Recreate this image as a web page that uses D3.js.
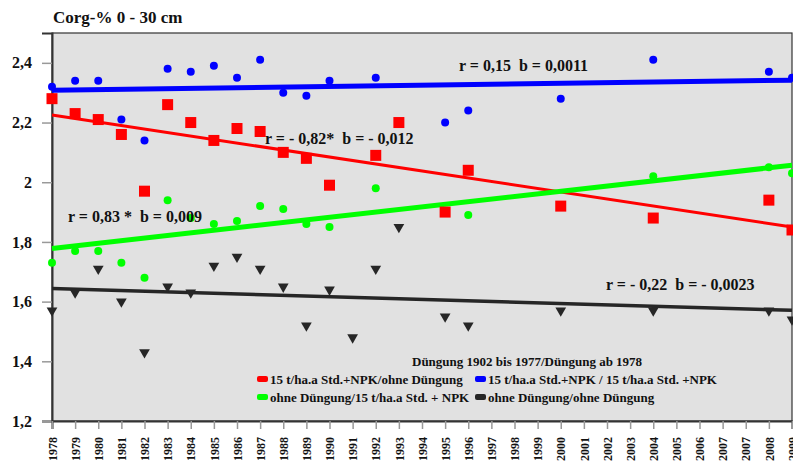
<html>
<head>
<meta charset="utf-8">
<script src="https://d3js.org/d3.v7.min.js"></script>
<style>
  body { margin: 0; background: #fff; }
  text { font-family: "Liberation Serif", "Times New Roman", serif; font-weight: bold; fill: #111; }
</style>
</head>
<body>
<svg id="chart" width="793" height="462"></svg>
<script>
// x labels (note: 2007 appears twice in the original)
let xLabels = ["1978","1979","1980","1981","1982","1983","1984","1985","1986","1987","1988","1989","1990",
  "1991","1992","1993","1994","1995","1996","1997","1998","1999","2000","2001","2002","2003","2004","2005",
  "2006","2007","2007","2008","2009"];
let yTicks = [1.2, 1.4, 1.6, 1.8, 2.0, 2.2, 2.4];

// 15 t/ha.a Std.+NPK / 15 t/ha.a Std. +NPK
let blueYears = [1978,1979,1980,1981,1982,1983,1984,1985,1986,1987,1988,1989,1990,1992,1995,1996,2000,2004,2008,2009];
let blueVals  = [2.32,2.34,2.34,2.21,2.14,2.38,2.37,2.39,2.35,2.41,2.30,2.29,2.34,2.35,2.20,2.24,2.28,2.41,2.37,2.35];
// 15 t/ha.a Std.+NPK/ohne Düngung
let redYears = [1978,1979,1980,1981,1982,1983,1984,1985,1986,1987,1988,1989,1990,1992,1993,1995,1996,2000,2004,2008,2009];
let redVals  = [2.28,2.23,2.21,2.16,1.97,2.26,2.20,2.14,2.18,2.17,2.10,2.08,1.99,2.09,2.20,1.90,2.04,1.92,1.88,1.94,1.84];
// ohne Düngung/15 t/ha.a Std. + NPK
let greenYears = [1978,1979,1980,1981,1982,1983,1984,1985,1986,1987,1988,1989,1990,1992,1996,2004,2008,2009];
let greenVals  = [1.73,1.77,1.77,1.73,1.68,1.94,1.88,1.86,1.87,1.92,1.91,1.86,1.85,1.98,1.89,2.02,2.05,2.03];
// ohne Düngung/ohne Düngung
let blackYears = [1978,1979,1980,1981,1982,1983,1984,1985,1986,1987,1988,1989,1990,1991,1992,1993,1995,1996,2000,2004,2008,2009];
let blackVals  = [1.57,1.63,1.71,1.60,1.43,1.65,1.63,1.72,1.75,1.71,1.65,1.52,1.64,1.48,1.71,1.85,1.55,1.52,1.57,1.57,1.57,1.54];

// regression lines: value at 1978 and at 2009
let trendYears = [1978, 2009];
let blueTrend  = [2.308, 2.342];
let redTrend   = [2.225, 1.850];
let greenTrend = [1.778, 2.057];
let blackTrend = [1.644, 1.571];

let svg = d3.select("#chart");
let mLeft = 52, mRight = 792, mTop = 33, mBottom = 421;

let x = d3.scalePoint().domain(d3.range(xLabels.length)).range([mLeft, mRight]);
let y = d3.scaleLinear().domain([1.2, 2.5]).range([mBottom, mTop]);
let xi = yr => xLabels.lastIndexOf(String(yr));
let fmt = v => d3.format(".1f")(v).replace(".", ",").replace(/,0$/, "");

// title
svg.append("text").attr("x", 53).attr("y", 23).style("font-size", "17px").text("Corg-% 0 - 30 cm");

// plot area
svg.append("rect").attr("x", mLeft).attr("y", mTop).attr("width", mRight - mLeft).attr("height", mBottom - mTop)
  .attr("fill", "#e1e1e1").attr("stroke", "#333").attr("stroke-width", 1.2);

// y axis
let yAxis = svg.append("g").attr("transform", `translate(${mLeft},0)`)
  .call(d3.axisLeft(y).tickValues(yTicks).tickFormat(fmt).tickSize(10).tickPadding(10));
yAxis.select(".domain").attr("stroke", "#333").attr("stroke-width", 2);
yAxis.selectAll(".tick line").attr("stroke", "#999").attr("stroke-width", 1.5);
yAxis.selectAll("text").style("font-size", "16px").attr("fill", "#111");

// x axis
let xAxis = svg.append("g").attr("transform", `translate(0,${mBottom})`)
  .call(d3.axisBottom(x).tickFormat(i => xLabels[i]).tickSize(8));
xAxis.select(".domain").attr("stroke", "#333").attr("stroke-width", 2);
xAxis.selectAll(".tick line").attr("stroke", "#999").attr("stroke-width", 1.5);
xAxis.selectAll("text").style("font-size", "12px").attr("fill", "#111")
  .attr("transform", "rotate(-90)").attr("text-anchor", "end")
  .attr("x", -16).attr("y", 0).attr("dy", "0.35em");

// trend lines
let line = d3.line().x(d => x(xi(d[0]))).y(d => y(d[1]));
function trend(vals, color, w) {
  svg.append("path").datum(trendYears.map((yr, i) => [yr, vals[i]]))
    .attr("d", line).attr("fill", "none").attr("stroke", color).attr("stroke-width", w);
}

trend(blueTrend, "#0000ff", 5);
trend(redTrend, "#ff0000", 3);
trend(greenTrend, "#00ff00", 5);
trend(blackTrend, "#262626", 3.5);

// markers
function pts(years, vals) { return years.map((yr, i) => [yr, vals[i]]); }

svg.append("g").selectAll("path").data(pts(blackYears, blackVals)).join("path")
  .attr("d", d3.symbol(d3.symbolTriangle, 50)())
  .attr("transform", d => `translate(${x(xi(d[0]))},${y(d[1])}) rotate(180)`)
  .attr("fill", "#262626");

svg.append("g").selectAll("rect").data(pts(redYears, redVals)).join("rect")
  .attr("x", d => x(xi(d[0])) - 5.5).attr("y", d => y(d[1]) - 5.5)
  .attr("width", 11).attr("height", 11).attr("fill", "#ff0000");

svg.append("g").selectAll("circle").data(pts(greenYears, greenVals)).join("circle")
  .attr("cx", d => x(xi(d[0]))).attr("cy", d => y(d[1])).attr("r", 4).attr("fill", "#00ff00");

svg.append("g").selectAll("circle").data(pts(blueYears, blueVals)).join("circle")
  .attr("cx", d => x(xi(d[0]))).attr("cy", d => y(d[1])).attr("r", 4).attr("fill", "#0000ff");

// regression labels
let notes = [
  {t: "r = 0,15  b = 0,0011", x: 459, y: 71},
  {t: "r = - 0,82*  b = - 0,012", x: 265, y: 144},
  {t: "r = 0,83 *  b = 0,009", x: 68, y: 222},
  {t: "r = - 0,22  b = - 0,0023", x: 606, y: 290}
];
svg.append("g").selectAll("text").data(notes).join("text")
  .attr("x", d => d.x).attr("y", d => d.y).style("font-size", "16px").style("white-space", "pre")
  .text(d => d.t);

// legend
let legend = svg.append("g").style("font-size", "13px");
legend.append("text").attr("x", 412).attr("y", 366).text("Düngung 1902 bis 1977/Düngung ab 1978");
let items = [
  {t: "15 t/ha.a Std.+NPK/ohne Düngung", c: "#ff0000", x: 257, y: 379},
  {t: "15 t/ha.a Std.+NPK / 15 t/ha.a Std. +NPK", c: "#0000ff", x: 475, y: 379},
  {t: "ohne Düngung/15 t/ha.a Std. + NPK", c: "#00ff00", x: 257, y: 397},
  {t: "ohne Düngung/ohne Düngung", c: "#262626", x: 475, y: 397}
];
let li = legend.selectAll("g").data(items).join("g").attr("transform", d => `translate(${d.x},${d.y})`);
li.append("rect").attr("x", 0).attr("y", -3).attr("width", 11).attr("height", 6).attr("rx", 2)
  .attr("fill", d => d.c);
li.append("text").attr("x", 13).attr("y", 0).attr("dy", "0.35em").text(d => d.t);
</script>
</body>
</html>
